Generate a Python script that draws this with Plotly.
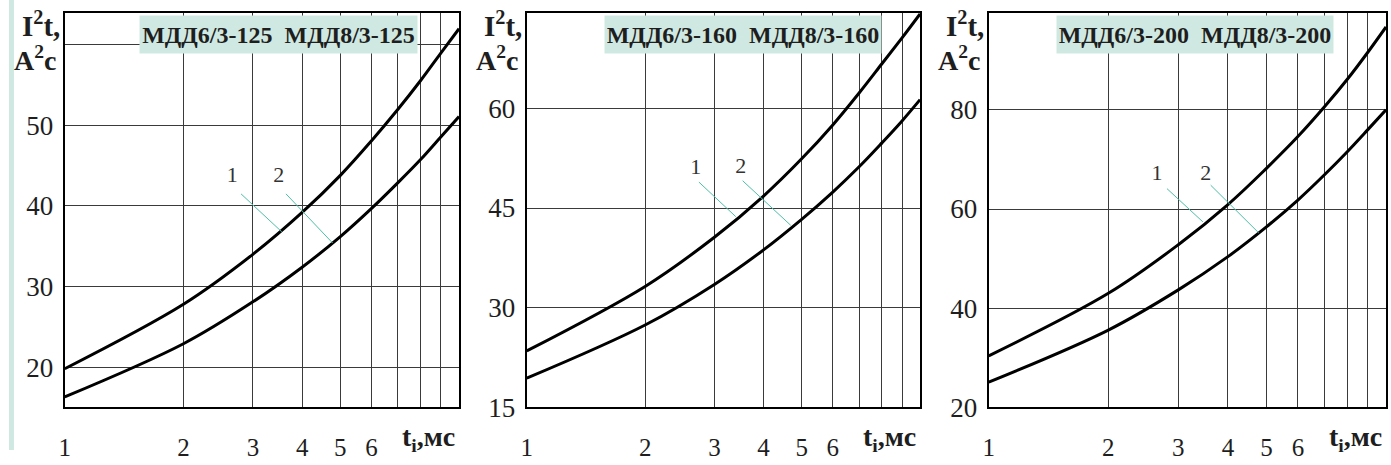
import plotly.graph_objects as go

# pulse duration, ms
t_ms = [1, 2, 3, 4, 5, 6, 7, 8, 9, 10]

# I2t, A2c — curve 1 (upper) and curve 2 (lower) for each fuse rating
i2t_125_c1 = [19.8, 27.8, 34.0, 39.2, 43.8, 48.1, 52.0, 55.6, 59.0, 62.0]
i2t_125_c2 = [16.3, 22.9, 28.1, 32.4, 36.2, 39.7, 42.9, 45.8, 48.6, 51.1]
i2t_160_c1 = [23.5, 33.2, 40.6, 46.8, 52.4, 57.5, 62.3, 66.7, 70.6, 74.2]
i2t_160_c2 = [19.4, 27.4, 33.5, 38.7, 43.3, 47.4, 51.2, 54.8, 58.1, 61.3]
i2t_200_c1 = [30.4, 43.0, 52.8, 60.9, 68.2, 74.6, 80.6, 86.2, 91.6, 96.7]
i2t_200_c2 = [25.1, 35.6, 43.7, 50.4, 56.4, 61.8, 66.9, 71.6, 76.0, 80.0]

titles = ["МДД6/3-125  МДД8/3-125", "МДД6/3-160  МДД8/3-160", "МДД6/3-200  МДД8/3-200"]

x_tickvals = [1, 2, 3, 4, 5, 6, 7, 8, 9, 10]
x_ticktext = ["1", "2", "3", "4", "5", "6", "", "", "", ""]

y_tickvals = [[20, 30, 40, 50, 60], [15, 30, 45, 60], [20, 40, 60, 80]]
y_ticktext = [["20", "30", "40", "50", ""], ["15", "30", "45", "60"], ["20", "40", "60", "80"]]
y_ranges = [[15, 64], [15, 74.4], [20, 99.6]]

# leader lines: (t_start, v_start, t_end, v_end) and label positions
leaders_1 = [(2.80, 41.5, 3.55, 36.8), (2.74, 48.9, 3.40, 43.7), (2.81, 64.1, 3.46, 57.4)]
leaders_2 = [(3.64, 41.5, 4.78, 35.4), (3.54, 49.1, 4.69, 42.4), (3.62, 64.8, 4.78, 55.2)]
label_1 = [(2.66, 43.6), (2.69, 50.9), (2.65, 67.0)]
label_2 = [(3.49, 43.6), (3.50, 51.1), (3.52, 67.0)]

W, H = 1391, 465
panels_px = [(59, 455), (523, 918), (987, 1386)]
plot_top, plot_bottom = 13, 421

curves = [(i2t_125_c1, i2t_125_c2), (i2t_160_c1, i2t_160_c2), (i2t_200_c1, i2t_200_c2)]

SERIF = "Liberation Serif"
TEAL_BG = "#cfe9e2"
TEAL_LINE = "#4dbfa6"
GRID = "#3a3a3a"
INK = "#1e1e1e"

fig = go.Figure()
layout = dict(
    width=W, height=H,
    margin=dict(l=0, r=0, t=0, b=0),
    paper_bgcolor="white", plot_bgcolor="white",
    showlegend=False,
    font=dict(family=SERIF, color=INK, size=20),
    annotations=[], shapes=[],
)

# thin teal strip on the left edge
layout["shapes"].append(dict(type="rect", xref="paper", yref="paper",
                             x0=3 / W, x1=8 / W, y0=0, y1=1,
                             fillcolor=TEAL_BG, line=dict(width=0), layer="below"))

ydom = [1 - plot_bottom / H, 1 - plot_top / H]

for i in range(3):
    n = "" if i == 0 else str(i + 1)
    xa, ya = "x" + n, "y" + n
    x0, x1 = panels_px[i]
    layout["xaxis" + n] = dict(
        type="log", range=[0, 1], domain=[x0 / W, x1 / W], anchor=ya,
        tickvals=x_tickvals, ticktext=x_ticktext,
        showgrid=True, gridcolor=GRID, gridwidth=1,
        showline=True, linecolor="black", linewidth=2, mirror=True,
        ticks="", ticklabelstandoff=17,
        tickfont=dict(size=25, family=SERIF, color=INK),
        zeroline=False, fixedrange=True,
    )
    layout["yaxis" + n] = dict(
        range=y_ranges[i], domain=ydom, anchor=xa,
        tickvals=y_tickvals[i], ticktext=y_ticktext[i],
        showgrid=True, gridcolor=GRID, gridwidth=1,
        showline=True, linecolor="black", linewidth=2, mirror=True,
        ticks="", ticklabelstandoff=4,
        tickfont=dict(size=27, family=SERIF, color=INK),
        zeroline=False, fixedrange=True,
    )

    c1, c2 = curves[i]
    for c in (c1, c2):
        fig.add_trace(go.Scatter(x=t_ms, y=c, mode="lines", xaxis=xa, yaxis=ya,
                                 line=dict(color="black", width=3, shape="spline", smoothing=1.0),
                                 hoverinfo="skip"))

    for ld in (leaders_1[i], leaders_2[i]):
        fig.add_trace(go.Scatter(x=[ld[0], ld[2]], y=[ld[1], ld[3]], mode="lines",
                                 xaxis=xa, yaxis=ya,
                                 line=dict(color=TEAL_LINE, width=1), hoverinfo="skip"))

    fig.add_trace(go.Scatter(x=[label_1[i][0], label_2[i][0]], y=[label_1[i][1], label_2[i][1]],
                             mode="text", text=["1", "2"], xaxis=xa, yaxis=ya,
                             textfont=dict(size=22, family=SERIF, color="#333333"),
                             hoverinfo="skip"))

    # title box
    bx = [(135, 412), (602, 878), (1056, 1332)][i]
    layout["annotations"].append(dict(
        xref="paper", yref="paper", x=(bx[0] + bx[1]) / 2 / W, y=1 - 36 / H,
        xanchor="center", yanchor="middle", showarrow=False,
        text="<b>" + titles[i] + "</b>", bgcolor=TEAL_BG,
        width=bx[1] - bx[0] - 4, height=33, borderpad=2,
        font=dict(size=24, family=SERIF, color=INK),
    ))

    # axis names
    layout["annotations"].append(dict(
        xref="paper", yref="paper", x=(x0 - 3) / W, y=1 - 25 / H,
        xanchor="right", yanchor="middle", showarrow=False,
        text="<b>I<sup>2</sup>t,</b>",
        font=dict(size=29, family=SERIF, color=INK),
    ))
    layout["annotations"].append(dict(
        xref="paper", yref="paper", x=(x0 - 7) / W, y=1 - 60 / H,
        xanchor="right", yanchor="middle", showarrow=False,
        text="<b>A<sup>2</sup>c</b>",
        font=dict(size=28, family=SERIF, color=INK),
    ))
    layout["annotations"].append(dict(
        xref="paper", yref="paper", x=(x1 - 2) / W, y=1 - 453 / H,
        xanchor="right", yanchor="middle", showarrow=False,
        text="<b>t<sub>i</sub>,мс</b>",
        font=dict(size=28, family=SERIF, color=INK),
    ))

fig.update_layout(**layout)
fig.write_html("out.html")
